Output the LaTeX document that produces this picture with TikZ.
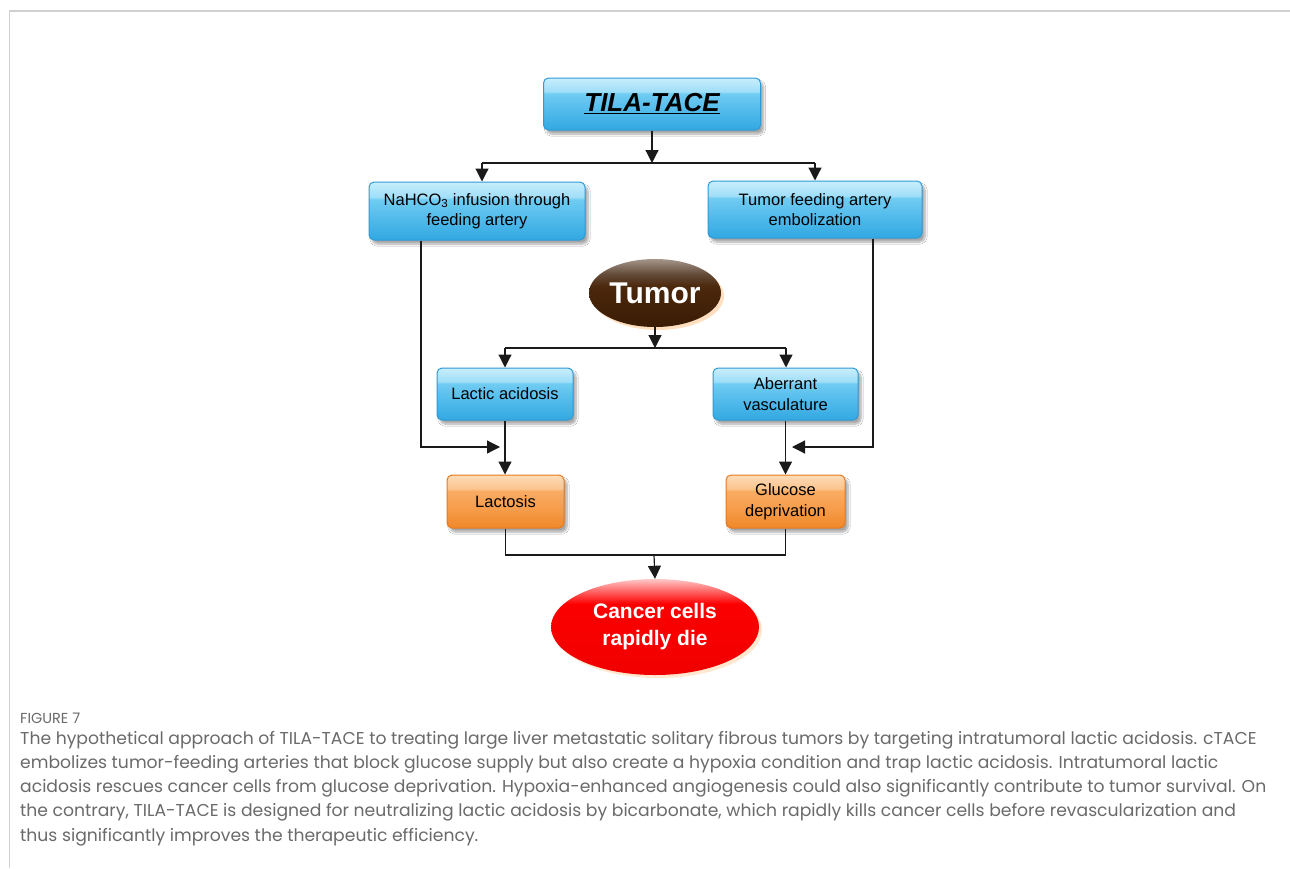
\documentclass[tikz,border=0pt]{standalone}
\usepackage{fontspec}
\setmainfont{Liberation Sans}
\newfontfamily\capfont{Poppins}
\usetikzlibrary{arrows.meta,shapes.geometric,shadows,shadows.blur}
\definecolor{blueedge}{HTML}{2F9AD6}
\definecolor{oredge}{HTML}{E57A22}
\definecolor{captext}{HTML}{6A6A6A}
\definecolor{framegray}{HTML}{D0D0D0}
\definecolor{lineblk}{HTML}{1A1A1A}
\pgfdeclareverticalshading{blueshade}{100bp}{%
  color(0bp)=(rgb,255:red,50;green,168;blue,226);
  color(25bp)=(rgb,255:red,50;green,168;blue,226);
  color(45bp)=(rgb,255:red,84;green,188;blue,236);
  color(60bp)=(rgb,255:red,112;green,204;blue,242);
  color(62bp)=(rgb,255:red,160;green,222;blue,248);
  color(75bp)=(rgb,255:red,200;green,238;blue,252);
  color(100bp)=(rgb,255:red,200;green,238;blue,252)}
\pgfdeclareverticalshading{orangeshade}{100bp}{%
  color(0bp)=(rgb,255:red,240;green,136;blue,40);
  color(25bp)=(rgb,255:red,240;green,136;blue,40);
  color(45bp)=(rgb,255:red,247;green,158;blue,78);
  color(60bp)=(rgb,255:red,249;green,172;blue,100);
  color(62bp)=(rgb,255:red,251;green,196;blue,140);
  color(75bp)=(rgb,255:red,253;green,220;blue,185);
  color(100bp)=(rgb,255:red,253;green,220;blue,185)}
\pgfdeclareverticalshading{redshade}{100bp}{%
  color(0bp)=(rgb,255:red,240;green,0;blue,0);
  color(25bp)=(rgb,255:red,240;green,0;blue,0);
  color(62bp)=(rgb,255:red,252;green,0;blue,0);
  color(68bp)=(rgb,255:red,255;green,90;blue,90);
  color(75bp)=(rgb,255:red,255;green,200;blue,200);
  color(100bp)=(rgb,255:red,255;green,200;blue,200)}
\pgfdeclareverticalshading{brownshade}{100bp}{%
  color(0bp)=(rgb,255:red,58;green,28;blue,4);
  color(25bp)=(rgb,255:red,58;green,28;blue,4);
  color(55bp)=(rgb,255:red,76;green,40;blue,12);
  color(64bp)=(rgb,255:red,100;green,76;blue,58);
  color(75bp)=(rgb,255:red,165;green,150;blue,138);
  color(100bp)=(rgb,255:red,165;green,150;blue,138)}
\tikzset{
  box/.style={rectangle, rounded corners=5pt, draw=blueedge, line width=1pt,
    shading=blueshade,
    blur shadow={shadow xshift=3pt, shadow yshift=-4pt, shadow blur steps=8, shadow opacity=35},
    align=center, font=\fontsize{16.5}{20.5}\selectfont, text=black, inner sep=2pt},
  obox/.style={box, draw=oredge, shading=orangeshade},
  arr/.style={draw=lineblk, line width=1.2pt, -{Triangle[length=13pt,width=13pt]}},
  ln/.style={draw=lineblk, line width=1.2pt},
}
\begin{document}
\begin{tikzpicture}[x=1pt,y=-1pt]
\useasboundingbox (0,0) rectangle (1290,868);
\fill[white] (0,0) rectangle (1290,868);
% frame
\draw[framegray, line width=2pt] (9,11) -- (1290,11);
\draw[framegray, line width=1pt] (9.5,11) -- (9.5,868);

% nodes
\node[box, minimum width=217pt, minimum height=52pt,
  font=\fontsize{26}{30}\selectfont\bfseries\itshape] (tila) at (652,104) {\underline{TILA-TACE}};
\node[box, minimum width=216pt, minimum height=58pt] (nahco) at (477,211) {NaHCO\textsubscript{3} infusion through\\feeding artery};
\node[box, minimum width=214pt, minimum height=57pt] (tfa) at (815,209.5) {Tumor feeding artery\\embolization};
\node[ellipse, minimum width=132pt, minimum height=68pt, inner sep=0pt,
  shading=brownshade,
  drop shadow={shadow xshift=3pt, shadow yshift=-3pt, fill=orange!70, opacity=0.35},
  text=white, font=\fontsize{30}{34}\selectfont\bfseries] (tumor) at (655,293) {Tumor};
\node[box, minimum width=136pt, minimum height=52pt] (lactic) at (505,394) {Lactic acidosis};
\node[box, minimum width=145pt, minimum height=52pt] (aberr) at (785.5,394) {Aberrant\\vasculature};
\node[obox, minimum width=117pt, minimum height=53pt] (lactosis) at (505.5,501.5) {Lactosis};
\node[obox, minimum width=119pt, minimum height=53pt] (glucose) at (785.5,501.5) {Glucose\\deprivation};
\node[ellipse, minimum width=208pt, minimum height=96pt, inner sep=0pt,
  shading=redshade,
  drop shadow={shadow xshift=3pt, shadow yshift=-3pt, fill=orange!60, opacity=0.3},
  text=white, align=center, font=\fontsize{21}{27}\selectfont\bfseries] (cancer) at (655,627) {Cancer cells\\rapidly die};

% connectors
\coordinate (b1) at (652,163);
\coordinate (b1l) at (482,163);
\coordinate (b1r) at (815,163);
\draw[arr] (tila.south) -- (b1);
\draw[ln] (b1l) -- (b1r);
\draw[arr] (b1l) -- (b1l |- nahco.north);
\draw[arr] (b1r) -- (b1r |- tfa.north);

\coordinate (b2) at (655,348);
\coordinate (b2l) at (505,348);
\coordinate (b2r) at (786,348);
\draw[arr] (tumor.south) -- (b2);
\draw[ln] (b2l) -- (b2r);
\draw[arr] (b2l) -- (lactic.north);
\draw[arr] (b2r) -- (b2r |- aberr.north);

\coordinate (nl) at (421,240);
\coordinate (jl) at (500,447);
\draw[arr] (nl |- nahco.south) |- (jl);
\coordinate (nr) at (873,238);
\coordinate (jr) at (792,447);
\draw[arr] (nr |- tfa.south) |- (jr);
\draw[arr] (lactic.south) -- (lactic.south |- lactosis.north);
\draw[arr] (aberr.south) -- (aberr.south |- glucose.north);

\coordinate (b3) at (654,555);
\draw[ln] (lactosis.south) |- (b3) -| (glucose.south);
\draw[arr] (b3) -- (cancer.north);

% caption
\node[anchor=west, text=captext, font=\capfont\fontsize{14.5}{16}\selectfont, inner sep=0pt] (fig) at (20,718) {FIGURE 7};
\begin{scope}[every node/.style={anchor=west, text=captext, font=\capfont\fontsize{17.2}{19}\selectfont, inner sep=0pt}]
\node (c1) at (20,740) {The hypothetical approach of TILA-TACE to treating large liver metastatic solitary fibrous tumors by targeting intratumoral lactic acidosis. cTACE};
\node (c2) at (20,764.2) {embolizes tumor-feeding arteries that block glucose supply but also create a hypoxia condition and trap lactic acidosis. Intratumoral lactic};
\node (c3) at (20,788.4) {acidosis rescues cancer cells from glucose deprivation. Hypoxia-enhanced angiogenesis could also significantly contribute to tumor survival. On};
\node (c4) at (20,812.6) {the contrary, TILA-TACE is designed for neutralizing lactic acidosis by bicarbonate, which rapidly kills cancer cells before revascularization and};
\node (c5) at (20,836.8) {thus significantly improves the therapeutic efficiency.};
\end{scope}
\end{tikzpicture}
\end{document}
